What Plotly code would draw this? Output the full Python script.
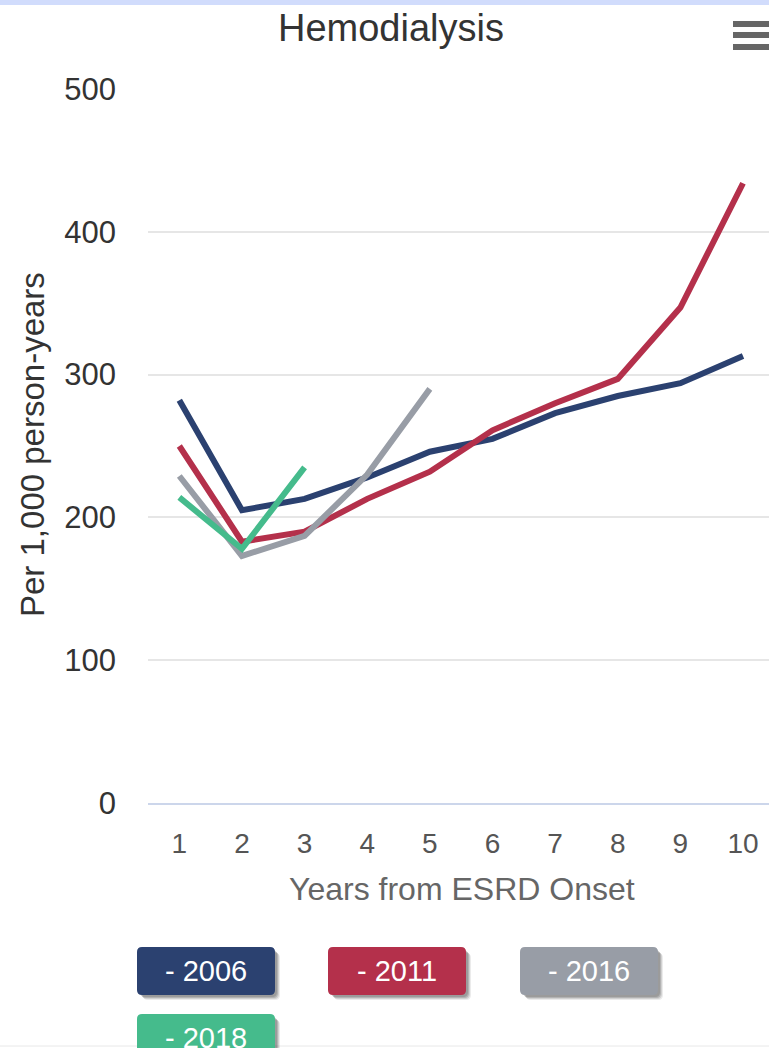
import plotly.graph_objects as go

# Hemodialysis rates by years from ESRD onset, per cohort year
years = [1, 2, 3, 4, 5, 6, 7, 8, 9, 10]
cohorts = ["2006", "2011", "2016", "2018"]
rate_2006 = [282, 205, 213, 228, 246, 255, 273, 285, 294, 313]
rate_2011 = [250, 183, 190, 213, 232, 261, 280, 297, 347, 434]
rate_2016 = [229, 173, 187, 230, 290]
rate_2018 = [214, 178, 235]
y_ticks = [0, 100, 200, 300, 400, 500]

series = [rate_2006, rate_2011, rate_2016, rate_2018]
colors = ["#2b4170", "#b4304b", "#989da6", "#45bb8c"]

W, H = 769, 1048
L, R, T, B = 148, 0, 89, 245
PW, PH = W - L - R, H - T - B
FONT = "Liberation Sans, Arial, sans-serif"


def px(x):
    return (x - L) / PW


def py(y):
    return (H - B - y) / PH


fig = go.Figure()
for name, vals, col in zip(cohorts, series, colors):
    fig.add_trace(go.Scatter(
        x=years[:len(vals)], y=vals, mode="lines", name=name,
        line=dict(color=col, width=6), showlegend=False,
        hoverinfo="x+y+name",
    ))

shapes = []
annotations = []

# thin band along the top edge
shapes.append(dict(type="rect", xref="paper", yref="paper",
                   x0=px(0), x1=px(W), y0=py(5), y1=py(0),
                   fillcolor="#d1dcfc", line=dict(width=0), layer="above"))
# faint rule at the bottom edge
shapes.append(dict(type="line", xref="paper", yref="paper",
                   x0=px(0), x1=px(W), y0=py(1046), y1=py(1046),
                   line=dict(color="#e8e8e8", width=1)))

# menu icon
for y0 in (21, 32, 44):
    shapes.append(dict(type="rect", xref="paper", yref="paper",
                       x0=px(733), x1=px(769), y0=py(y0 + 6), y1=py(y0),
                       fillcolor="#666666", line=dict(width=0)))


def rounded(x0, y0, x1, y1, r):
    return (f"M {px(x0 + r)} {py(y0)} L {px(x1 - r)} {py(y0)} "
            f"Q {px(x1)} {py(y0)} {px(x1)} {py(y0 + r)} "
            f"L {px(x1)} {py(y1 - r)} Q {px(x1)} {py(y1)} {px(x1 - r)} {py(y1)} "
            f"L {px(x0 + r)} {py(y1)} Q {px(x0)} {py(y1)} {px(x0)} {py(y1 - r)} "
            f"L {px(x0)} {py(y0 + r)} Q {px(x0)} {py(y0)} {px(x0 + r)} {py(y0)} Z")


# legend buttons
btn_pos = [(137, 947), (328, 947), (520, 947), (137, 1014)]
bw, bh = 138, 48
for name, col, (bx, by) in zip(cohorts, colors, btn_pos):
    for off, op in ((6, 0.10), (5, 0.15), (4, 0.20), (3, 0.2)):
        shapes.append(dict(type="path", xref="paper", yref="paper",
                           path=rounded(bx + off, by + off, bx + bw + off - 1, by + bh + off - 1, 5),
                           fillcolor=f"rgba(60,60,60,{op})", line=dict(width=0)))
    shapes.append(dict(type="path", xref="paper", yref="paper",
                       path=rounded(bx, by, bx + bw, by + bh, 5),
                       fillcolor=col, line=dict(width=0)))
    annotations.append(dict(xref="paper", yref="paper", x=px(bx + bw / 2), y=py(by + bh / 2),
                            text=f"- {name}", showarrow=False, xanchor="center", yanchor="middle",
                            font=dict(family=FONT, size=29, color="#ffffff")))

# chart title
annotations.append(dict(xref="paper", yref="paper", x=px(391), y=py(28),
                        text="Hemodialysis", showarrow=False, xanchor="center", yanchor="middle",
                        font=dict(family=FONT, size=38, color="#333333")))
# axis titles
annotations.append(dict(xref="paper", yref="paper", x=px(462), y=py(889),
                        text="Years from ESRD Onset", showarrow=False, xanchor="center", yanchor="middle",
                        font=dict(family=FONT, size=32, color="#666666")))
annotations.append(dict(xref="paper", yref="paper", x=px(32), y=py(445),
                        text="Per 1,000 person-years", showarrow=False, textangle=-90,
                        xanchor="center", yanchor="middle",
                        font=dict(family=FONT, size=33, color="#333333")))

fig.update_layout(
    width=W, height=H,
    margin=dict(l=L, r=R, t=T, b=B, pad=0),
    paper_bgcolor="#ffffff", plot_bgcolor="#ffffff",
    shapes=shapes, annotations=annotations,
    showlegend=False,
    xaxis=dict(range=[0.5, 10 + (W - 743) / ((743 - 179) / 9)], tickvals=years,
               ticktext=[str(v) for v in years], showgrid=False, zeroline=False,
               showline=True, linecolor="#ccd6eb", linewidth=1.5, ticks="",
               tickfont=dict(family=FONT, size=28, color="#555555"),
               ticklabelstandoff=15, fixedrange=True),
    yaxis=dict(range=[0, 500], tickvals=y_ticks, showgrid=True, gridcolor="#e6e6e6",
               gridwidth=1.5, zeroline=False, showline=False, ticks="",
               tickfont=dict(family=FONT, size=31, color="#333333"),
               ticklabelstandoff=31, fixedrange=True),
)

fig.write_html("out.html", config={"displayModeBar": False})
